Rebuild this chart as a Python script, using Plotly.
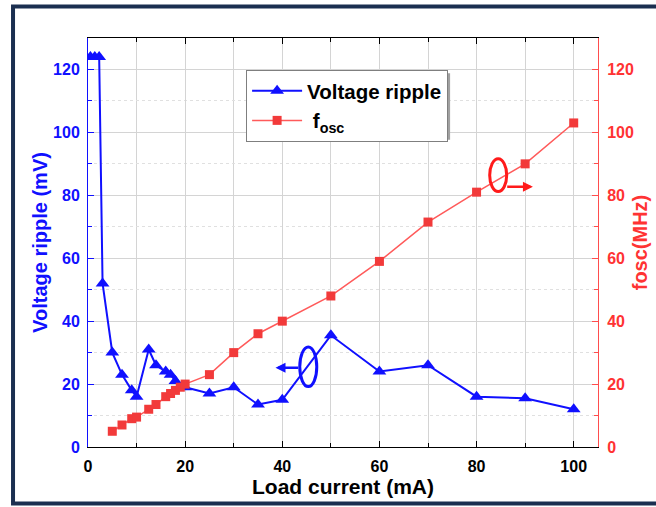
import plotly.graph_objects as go

# Load current sweep (mA) and measured output ripple (mV)
ripple_current = [0.5, 1.4, 2.3, 3, 5, 7, 9, 10, 12.5, 14, 16, 17, 18, 20,
                  25, 30, 35, 40, 50, 60, 70, 80, 90, 100]
ripple_mv = [124, 124, 124, 52, 30, 23, 18, 16, 31, 26, 24, 23, 21, 19,
             17, 19, 13.5, 15, 35.5, 24, 26, 16, 15.5, 12]

# Load current sweep (mA) and oscillator frequency (MHz)
fosc_current = [5, 7, 9, 10, 12.5, 14, 16, 17, 18, 19, 20, 25, 30, 35, 40,
                50, 60, 70, 80, 90, 100]
fosc_mhz = [5, 7, 9, 9.5, 12, 13.5, 16, 17, 18, 19, 20, 23, 30, 36, 40,
            48, 59, 71.5, 81, 90, 103]

x_ticks = [0, 20, 40, 60, 80, 100]
y_ticks = [0, 20, 40, 60, 80, 100, 120]

BLUE = "#1010ff"
RED = "#f23a3a"
FONT = "Liberation Sans, Arial, sans-serif"

fig = go.Figure()

fig.add_trace(go.Scatter(
    x=ripple_current, y=ripple_mv, name="Voltage ripple",
    mode="lines+markers",
    line=dict(color=BLUE, width=2),
    marker=dict(symbol="triangle-up", size=12, color=BLUE),
))
fig.add_trace(go.Scatter(
    x=fosc_current, y=fosc_mhz, name=" f<sub>osc</sub>",
    mode="lines+markers", yaxis="y2",
    line=dict(color="#ff5a5a", width=1.5),
    marker=dict(symbol="square", size=9, color=RED),
))

# ellipse + arrow callouts pointing at each series' axis
fig.add_shape(type="circle", xref="x", yref="y",
              x0=43.6, x1=47.1, y0=19.2, y1=31.8,
              line=dict(color=BLUE, width=3))
fig.add_annotation(x=38.6, y=25.2, ax=43.6, ay=25.2, xref="x", yref="y",
                   axref="x", ayref="y", text="", showarrow=True,
                   arrowhead=2, arrowsize=0.8, arrowwidth=2.5,
                   arrowcolor=BLUE)
fig.add_shape(type="circle", xref="x", yref="y2",
              x0=82.7, x1=86.2, y0=81.2, y1=91.6,
              line=dict(color="#ff1a1a", width=3))
fig.add_annotation(x=91.6, y=82.7, ax=86.0, ay=82.7, xref="x", yref="y2",
                   axref="x", ayref="y2", text="", showarrow=True,
                   arrowhead=2, arrowsize=0.8, arrowwidth=2.5,
                   arrowcolor="#ff1a1a")

# legend drop shadow
fig.add_shape(type="rect", xref="paper", yref="paper",
              x0=0.316, x1=0.710, y0=0.751, y1=0.914,
              fillcolor="#a0a0a0", line=dict(width=0), layer="above")

# outer frame
fig.add_shape(type="rect", xref="paper", yref="paper",
              x0=-0.147, x1=1.12, y0=-0.138, y1=1.077,
              line=dict(color="#1b2f50", width=4))

fig.update_layout(
    width=656, height=507,
    margin=dict(l=88, r=58, t=38, b=60),
    paper_bgcolor="white", plot_bgcolor="white",
    font=dict(family=FONT, size=16, color="black"),
    showlegend=True,
    legend=dict(
        x=0.31, y=0.922, xanchor="left", yanchor="top",
        bgcolor="white", bordercolor="#7f7f7f", borderwidth=1,
        font=dict(family=FONT, size=20.5, color="black", weight="bold"),
        itemwidth=50, tracegroupgap=0,
    ),
    xaxis=dict(
        range=[0, 105], tickvals=x_ticks, ticks="inside", ticklen=6,
        tickcolor="black", showline=True, linecolor="black", linewidth=1,
        mirror="ticks", showgrid=True, gridcolor="#d4d4d4", gridwidth=1,
        zeroline=False, automargin=False, ticklabelstandoff=5,
        tickfont=dict(family=FONT, size=16, color="black", weight="bold"),
        minor=dict(dtick=10, tick0=0, ticks="inside", ticklen=4,
                   tickcolor="black", showgrid=True, gridcolor="#d4d4d4"),
        title=dict(text="Load current (mA)", standoff=4,
                   font=dict(family=FONT, size=21, color="black",
                             weight="bold")),
    ),
    yaxis=dict(
        range=[0, 130], tickvals=y_ticks, ticks="inside", ticklen=6,
        tickcolor=BLUE, showline=True, linecolor=BLUE, linewidth=1,
        showgrid=True, gridcolor="#d4d4d4", gridwidth=1, zeroline=False,
        automargin=False, ticklabelstandoff=4,
        tickfont=dict(family=FONT, size=16, color=BLUE, weight="bold"),
        minor=dict(dtick=10, tick0=0, ticks="inside", ticklen=4,
                   tickcolor=BLUE, showgrid=True, gridcolor="#e0e0e0",
                   griddash="dot"),
        title=dict(text="Voltage ripple (mV)", standoff=0,
                   font=dict(family=FONT, size=20, color=BLUE,
                             weight="bold")),
    ),
    yaxis2=dict(
        range=[0, 130], tickvals=y_ticks, ticks="inside", ticklen=6,
        tickcolor="#ff4d4d", showline=True, linecolor="#ff4d4d",
        linewidth=1, overlaying="y", side="right", showgrid=False,
        zeroline=False, automargin=False, ticklabelstandoff=5,
        tickfont=dict(family=FONT, size=16, color="#ff3333", weight="bold"),
        minor=dict(dtick=10, tick0=0, ticks="inside", ticklen=4,
                   tickcolor="#ff4d4d"),
        title=dict(text="fosc(MHz)", standoff=0,
                   font=dict(family=FONT, size=20, color="#ff3333",
                             weight="bold")),
    ),
)

fig.write_html("out.html")
